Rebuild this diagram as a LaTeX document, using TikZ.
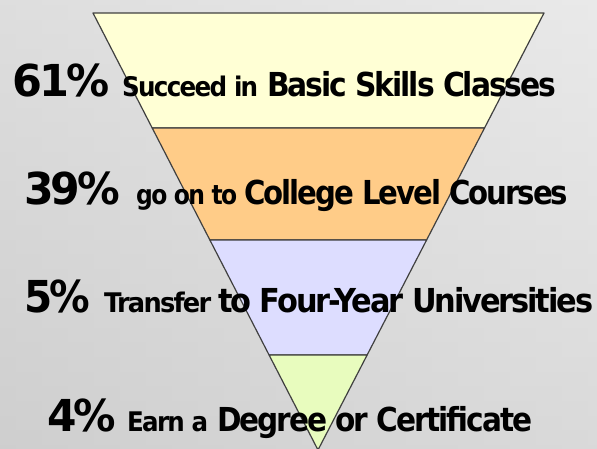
\documentclass[tikz,border=0pt]{standalone}
\usepackage{fontspec}
\setmainfont{DejaVu Sans}[LetterSpace=-7]
\usetikzlibrary{calc}
\newcommand{\fbig}{\fontsize{44}{44}\selectfont}
\newcommand{\fsmall}{\fontsize{27}{27}\selectfont}
\newcommand{\fmid}{\fontsize{33}{33}\selectfont}
\newcommand{\wbox}[3]{\resizebox{#1pt}{\height}{#2#3}}
\tikzset{
  band/.style={draw=black!75, line width=1.2pt, line join=round},
  lbl/.style={anchor=base west, inner sep=0pt, font=\bfseries, text=black}
}
\begin{document}
\begin{tikzpicture}[x=1pt,y=1pt]
\useasboundingbox (0,0) rectangle (597,449);
\shade[left color=black!22, right color=black!13] (0,0) rectangle (597,449);
\shade[top color=white!60!black!10, bottom color=black!16, opacity=0.5] (0,0) rectangle (597,449);
\begin{scope}
\clip (0,0) rectangle (597,449);
\coordinate (L) at (93,436);
\coordinate (R) at (544,436);
\coordinate (A) at (318,-1);
\coordinate (L1) at ($(L)!0.2632!(A)$);
\coordinate (R1) at ($(R)!0.2632!(A)$);
\coordinate (L2) at ($(L)!0.5195!(A)$);
\coordinate (R2) at ($(R)!0.5195!(A)$);
\coordinate (L3) at ($(L)!0.7826!(A)$);
\coordinate (R3) at ($(R)!0.7826!(A)$);
\filldraw[band, fill={rgb,255:red,255;green,255;blue,213}] (L) -- (R) -- (R1) -- (L1) -- cycle;
\filldraw[band, fill={rgb,255:red,255;green,204;blue,136}] (L1) -- (R1) -- (R2) -- (L2) -- cycle;
\filldraw[band, fill={rgb,255:red,221;green,221;blue,255}] (L2) -- (R2) -- (R3) -- (L3) -- cycle;
\filldraw[band, fill={rgb,255:red,232;green,252;blue,190}] (L3) -- (R3) -- (A) -- cycle;
\end{scope}
% line 1
\node[lbl] (p1) at (12,352) {\wbox{97}{\fbig}{61\%}};
\node[lbl] (s1) at (122,352) {\wbox{136}{\fsmall}{Succeed in}};
\node[lbl] (b1) at (267,352) {\wbox{289}{\fmid}{Basic Skills Classes}};
% line 2
\node[lbl] (p2) at (24,244) {\wbox{96}{\fbig}{39\%}};
\node[lbl] (s2) at (136,244) {\wbox{101}{\fsmall}{go on to}};
\node[lbl] (b2) at (244,244) {\wbox{324}{\fmid}{College Level Courses}};
% line 3
\node[lbl] (p3) at (24,136) {\wbox{66}{\fbig}{5\%}};
\node[lbl] (s3) at (104,136) {\wbox{107}{\fsmall}{Transfer}};
\node[lbl] (b3) at (218,136) {\wbox{375}{\fmid}{to Four-Year Universities}};
% line 4
\node[lbl] (p4) at (47,17) {\wbox{69}{\fbig}{4\%}};
\node[lbl] (s4) at (127,17) {\wbox{81}{\fsmall}{Earn a}};
\node[lbl] (b4) at (217,17) {\wbox{315}{\fmid}{Degree or Certificate}};
\end{tikzpicture}
\end{document}
